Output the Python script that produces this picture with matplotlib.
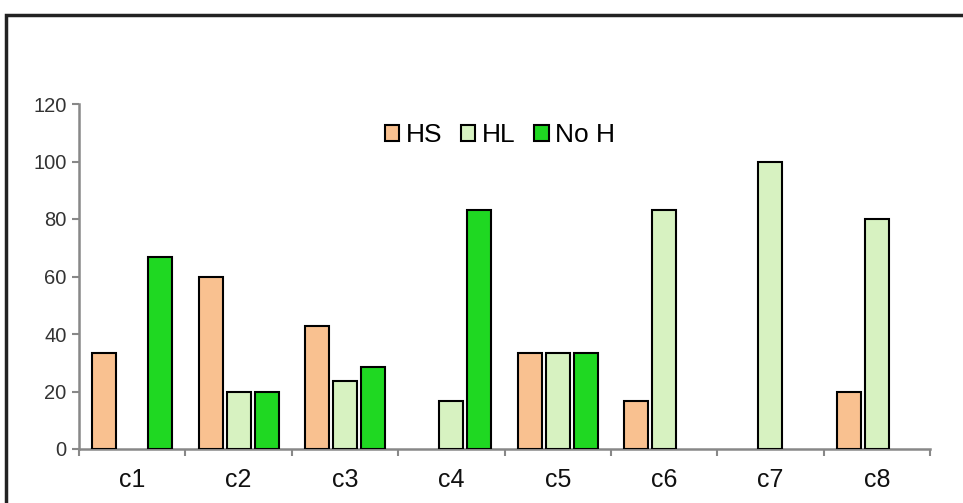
import matplotlib.pyplot as plt
import numpy as np
from matplotlib.patches import Rectangle

plt.rcParams['font.family'] = ['Liberation Sans', 'DejaVu Sans']

categories = ["c1", "c2", "c3", "c4", "c5", "c6", "c7", "c8"]
series_names = ["HS", "HL", "No H"]
# None = no bar drawn for that category
hs = [33.3, 60.0, 42.9, None, 33.3, 16.7, None, 20.0]
hl = [None, 20.0, 23.8, 16.7, 33.3, 83.3, 100.0, 80.0]
no_h = [66.7, 20.0, 28.6, 83.3, 33.3, None, None, None]
colors = ["#F9C190", "#D7F2C1", "#1FD822"]

W, H = 963, 503
fig = plt.figure(figsize=(W / 100, H / 100), dpi=100)
fig.patches.append(Rectangle((6 / W, -0.1), 1.2, 1 - 15 / H + 0.1,
                             transform=fig.transFigure, fill=False,
                             edgecolor="#222222", linewidth=2.5))

ax = fig.add_axes([79 / W, (H - 449) / H, (930 - 79) / W, (449 - 104) / H])
x = np.arange(len(categories))
step = 0.263
width = 0.226
for i, (vals, name) in enumerate(zip([hs, hl, no_h], series_names)):
    v = np.array([np.nan if val is None else val for val in vals], dtype=float)
    ax.bar(x + (i - 1) * step, v, width, color=colors[i], edgecolor="black",
           linewidth=1.5, label=name, zorder=3)

ax.set_xlim(-0.5, len(categories) - 0.5)
ax.set_ylim(0, 120)
ax.set_yticks(np.arange(0, 121, 20))
ax.set_xticks(x)
ax.set_xticklabels(categories, fontsize=18, color="#111111")
ax.set_xticks(np.arange(-0.5, len(categories)), minor=True)
ax.tick_params(axis="x", which="major", length=0, pad=14)
ax.tick_params(axis="x", which="minor", length=5, width=1.5, color="#888888",
               direction="out")
ax.tick_params(axis="y", length=5, width=1.5, color="#888888", labelsize=14.5,
               labelcolor="#333333", pad=4)
for side in ("top", "right"):
    ax.spines[side].set_visible(False)
for side in ("left", "bottom"):
    ax.spines[side].set_color("#888888")
    ax.spines[side].set_linewidth(1.8)

ax.legend(loc="center", bbox_to_anchor=(500 / W, 1 - 135 / H), bbox_transform=fig.transFigure,
          ncol=3, frameon=False, fontsize=19, handlelength=0.55, handleheight=0.55,
          handletextpad=0.25, columnspacing=0.7, borderpad=0)

fig.savefig("out.png", dpi=100)
